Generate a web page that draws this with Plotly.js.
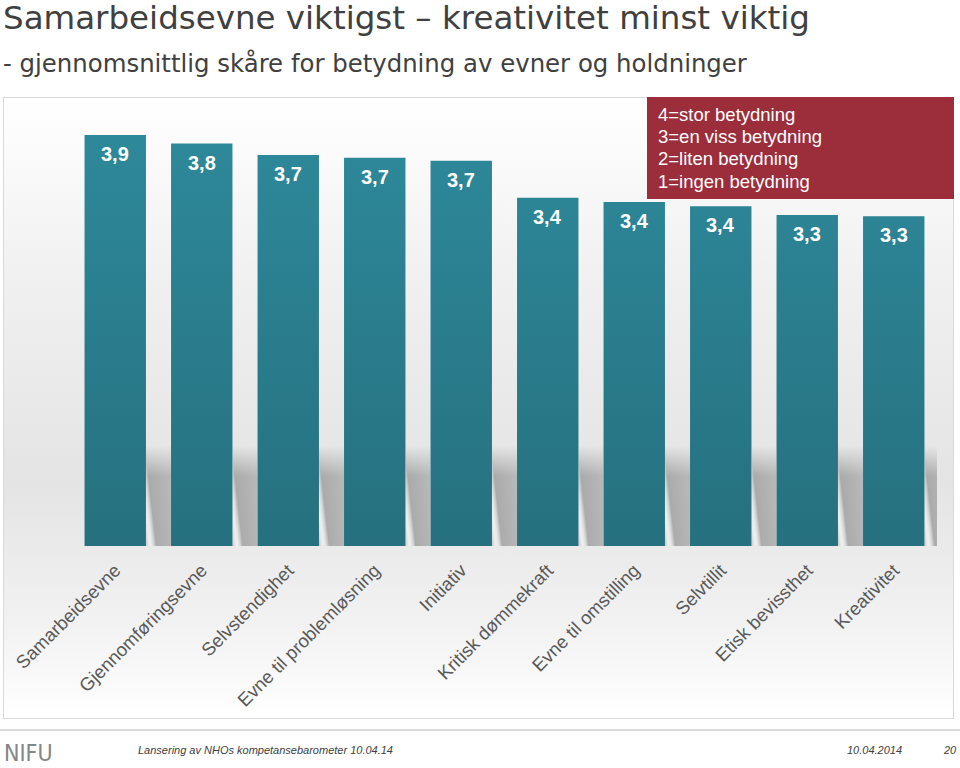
<!DOCTYPE html>
<html>
<head>
<meta charset="utf-8">
<script src="https://cdn.plot.ly/plotly-3.0.1.min.js"></script>
<style>
  html, body { margin:0; padding:0; background:#ffffff; }
  #wrap { position:relative; width:960px; height:768px; overflow:hidden; }
  #frame { position:absolute; left:3px; top:97px; width:949px; height:620px;
           border:1.5px solid #d9d9d9;
           background:linear-gradient(to bottom, #ffffff 0%, #f0f0f0 30%, #e4e4e4 62%, #f2f2f2 85%, #ffffff 100%); }
  #chart { position:absolute; left:0; top:0; width:960px; height:768px; }
</style>
</head>
<body>
<div id="wrap">
  <div id="frame"></div>
  <div id="chart"></div>
</div>
<script>
// ---- data ----
const categories = ['Samarbeidsevne', 'Gjennomføringsevne', 'Selvstendighet', 'Evne til problemløsning',
  'Initiativ', 'Kritisk dømmekraft', 'Evne til omstilling', 'Selvtillit', 'Etisk bevissthet', 'Kreativitet'];
const values = [3.88, 3.82, 3.74, 3.72, 3.70, 3.44, 3.41, 3.38, 3.32, 3.31];
const scaleLines = ['4=stor betydning', '3=en viss betydning', '2=liten betydning', '1=ingen betydning'];
const titleText = 'Samarbeidsevne viktigst – kreativitet minst viktig';
const subtitleText = '- gjennomsnittlig skåre for betydning av evner og holdninger';
const footerLeft = 'Lansering av NHOs kompetansebarometer 10.04.14';
const footerDate = '10.04.2014';
const pageNo = '20';

// ---- layout helpers (pixel -> paper) ----
const L = 72, R = 937, T = 97, B = 546;
const px = X => (X - L) / (R - L);
const py = Y => (B - Y) / (B - T);

const trace = {
  type: 'bar',
  x: categories,
  y: values,
  marker: { color: '#2a7e8e', line: { width: 0 } },
  hoverinfo: 'skip'
};

const valueLabels = values.map((v, i) => ({
  text: '<b>' + v.toFixed(1).replace('.', ',') + '</b>',
  x: categories[i], y: v, xref: 'x', yref: 'y',
  yanchor: 'top', yshift: -6, showarrow: false,
  font: { size: 20, color: '#ffffff' }
}));

const scaleAnnotations = scaleLines.map((t, i) => ({
  text: t, xref: 'paper', yref: 'paper', x: px(656), y: py(114 + i * 22.4),
  xanchor: 'left', yanchor: 'middle', showarrow: false,
  font: { size: 18.5, color: '#ffffff' }
}));

const layout = {
  width: 960, height: 768,
  margin: { l: L, r: 960 - R, t: T, b: 768 - B },
  paper_bgcolor: 'rgba(0,0,0,0)',
  plot_bgcolor: 'rgba(0,0,0,0)',
  bargap: 0.29,
  showlegend: false,
  font: { family: 'Liberation Sans, Arial, sans-serif', color: '#595959' },
  xaxis: {
    type: 'category', tickangle: -45, ticks: '', showline: false, showgrid: false, zeroline: false,
    ticklabelstandoff: 9,
    tickfont: { size: 18.5, color: '#595959' }
  },
  yaxis: { range: [1, 4.146], visible: false, fixedrange: true },
  shapes: [
    { type: 'rect', xref: 'paper', yref: 'paper', x0: px(647), x1: px(954), y0: py(97), y1: py(199),
      fillcolor: '#9c2e3c', line: { width: 0 }, layer: 'above' },
    { type: 'line', xref: 'paper', yref: 'paper', x0: px(0), x1: px(960), y0: py(730), y1: py(730),
      line: { color: '#cfcfcf', width: 1.5 } }
  ],
  annotations: [
    { text: titleText, xref: 'paper', yref: 'paper', x: px(1), y: py(18), xanchor: 'left', yanchor: 'middle',
      showarrow: false, font: { size: 32.5, color: '#404040', family: 'DejaVu Sans, sans-serif' } },
    { text: subtitleText, xref: 'paper', yref: 'paper', x: px(1), y: py(64), xanchor: 'left', yanchor: 'middle',
      showarrow: false, font: { size: 24.4, color: '#404040', family: 'DejaVu Sans, sans-serif' } },
    ...scaleAnnotations,
    ...valueLabels,
    { text: 'NIFU', xref: 'paper', yref: 'paper', x: px(2), y: py(753), xanchor: 'left', yanchor: 'middle',
      showarrow: false, font: { size: 23, color: '#858585', family: 'Liberation Sans Narrow, DejaVu Sans Condensed, sans-serif' } },
    { text: '<i>' + footerLeft + '</i>', xref: 'paper', yref: 'paper', x: px(136), y: py(750), xanchor: 'left', yanchor: 'middle',
      showarrow: false, font: { size: 11, color: '#404040' } },
    { text: '<i>' + footerDate + '</i>', xref: 'paper', yref: 'paper', x: px(845), y: py(750), xanchor: 'left', yanchor: 'middle',
      showarrow: false, font: { size: 11, color: '#404040' } },
    { text: '<i>' + pageNo + '</i>', xref: 'paper', yref: 'paper', x: px(941), y: py(750), xanchor: 'left', yanchor: 'middle',
      showarrow: false, font: { size: 11, color: '#404040' } }
  ]
};

Plotly.newPlot('chart', [trace], layout, { staticPlot: true, displayModeBar: false }).then(gd => {
  const svg = gd.querySelector('svg.main-svg');
  const NS = 'http://www.w3.org/2000/svg';
  let defs = svg.querySelector('defs');
  if (!defs) { defs = document.createElementNS(NS, 'defs'); svg.insertBefore(defs, svg.firstChild); }
  const mk = (tag, attrs) => { const e = document.createElementNS(NS, tag); for (const k in attrs) e.setAttribute(k, attrs[k]); return e; };
  const plotH = gd._fullLayout._size.h;
  // vertical gradient for bars (relative to visible plot height)
  const g = mk('linearGradient', { id: 'barGrad', gradientUnits: 'userSpaceOnUse', x1: 0, y1: 0, x2: 0, y2: plotH });
  [['0%', '#2e8b9c'], ['100%', '#26707f']].forEach(([o, c]) => g.appendChild(mk('stop', { offset: o, 'stop-color': c })));
  defs.appendChild(g);
  // diagonal shadow gradient with a light streak
  const sg = mk('linearGradient', { id: 'shadowGrad', x1: 0, y1: 1, x2: 1, y2: 0.55 });
  [['0%', '#a8a8a8', 0.6], ['14%', '#ffffff', 0.25], ['34%', '#a0a0a0', 0.85], ['100%', '#a8a8a8', 0.75]]
    .forEach(([o, c, a]) => sg.appendChild(mk('stop', { offset: o, 'stop-color': c, 'stop-opacity': a })));
  defs.appendChild(sg);
  // vertical fade so the shadow top is soft
  const fg = mk('linearGradient', { id: 'fadeGrad', x1: 0, y1: 0, x2: 0, y2: 1 });
  [['0%', '#000000'], ['30%', '#ffffff'], ['100%', '#ffffff']].forEach(([o, c]) => fg.appendChild(mk('stop', { offset: o, 'stop-color': c })));
  defs.appendChild(fg);
  const mask = mk('mask', { id: 'shadowMask', maskContentUnits: 'objectBoundingBox' });
  mask.appendChild(mk('rect', { x: 0, y: 0, width: 1, height: 1, fill: 'url(#fadeGrad)' }));
  defs.appendChild(mask);

  const paths = Array.from(gd.querySelectorAll('.bars .point path'));
  paths.forEach(p => { p.style.fill = 'url(#barGrad)'; });
  // soft cast shadows in the gaps, derived from each bar's drawn box and the plot bottom
  if (paths.length) {
    const layer = paths[0].parentNode.parentNode;  // g.points
    paths.forEach((p, i) => {
      const bb = p.getBBox();
      const next = paths[i + 1] ? paths[i + 1].getBBox() : null;
      const gapW = next ? next.x - (bb.x + bb.width) : 25;
      const bottom = Math.min(bb.y + bb.height, plotH);
      const h = 100;
      const r = mk('rect', { x: bb.x + bb.width, y: bottom - h, width: gapW, height: h, mask: 'url(#shadowMask)' });
      r.style.fill = 'url(#shadowGrad)';
      r.style.stroke = 'none';
      layer.insertBefore(r, layer.firstChild);
    });
  }
});
</script>
</body>
</html>
